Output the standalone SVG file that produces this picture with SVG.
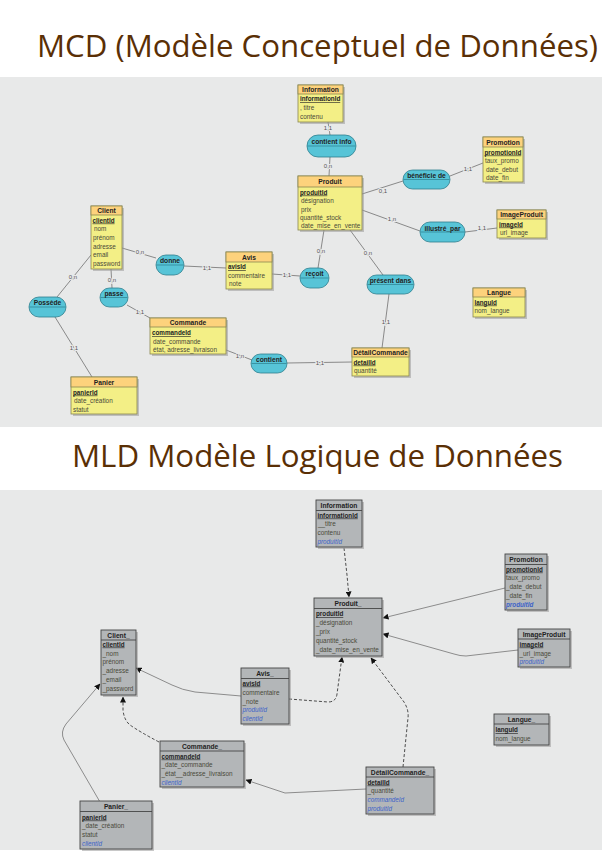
<svg xmlns="http://www.w3.org/2000/svg" width="602" height="860" viewBox="0 0 602 860">
<style>
  .title{font-family:"Open Sans","Liberation Sans",sans-serif;font-size:31px;fill:#5a2f05}
  text{font-family:"Liberation Sans","DejaVu Sans",sans-serif}
  .sh{fill:#9a9a9a;opacity:.55}
  .ent{fill:#f3ef86;stroke:#8a8750;stroke-width:.8}
  .hd{fill:#fdd27c;stroke:#8a8750;stroke-width:.8}
  .tbl{fill:#b3b6b8;stroke:#454545;stroke-width:.9}
  .sep{stroke:#454545;stroke-width:.9}
  .as{fill:#57c4d7;stroke:#2d7f8e;stroke-width:.8}
  .asl{stroke:#2d7f8e;stroke-width:.7}
  .nm{font-size:6.7px;font-weight:bold;fill:#222;text-anchor:middle}
  .at{font-size:6.4px;fill:#4a4a3a}
  .pk{font-size:6.3px;font-weight:bold;fill:#222;text-decoration:underline}
  .fk{font-size:6.3px;font-style:italic;fill:#3d63c9}
  .card{font-size:6px;fill:#555;text-anchor:middle;stroke:#e8e9e9;stroke-width:2;paint-order:stroke}
  .ln{fill:none;stroke:#707070;stroke-width:.8}
  .sl{fill:none;stroke:#8c8c8c;stroke-width:1}
  .dl{fill:none;stroke:#222;stroke-width:.8;stroke-dasharray:3 2}
</style>
<defs>
  <marker id="arr" viewBox="0 0 6 6" refX="5.5" refY="3" markerWidth="6" markerHeight="6" orient="auto" markerUnits="userSpaceOnUse">
    <path d="M0,0 L6,3 L0,6 z" fill="#111"/>
  </marker>
</defs>

<!-- page -->
<rect x="0" y="0" width="602" height="860" fill="#ffffff"/>
<rect x="0" y="77" width="602" height="350" fill="#e8e9e9"/>
<rect x="0" y="490" width="602" height="360" fill="#e8e9e9"/>
<text class="title" x="37" y="57" textLength="561" lengthAdjust="spacingAndGlyphs">MCD (Modèle Conceptuel de Données)</text>
<text class="title" x="72" y="467" textLength="491" lengthAdjust="spacingAndGlyphs">MLD Modèle Logique de Données</text>

<!-- conceptual model: links -->
<g id="mcd-links">
  <path class="ln" d="M328,122 L330,135"/>
  <path class="ln" d="M330,157 L329,176"/>
  <path class="ln" d="M362,194 L403,181"/>
  <path class="ln" d="M450,176 L483,163"/>
  <path class="ln" d="M362,210 L420,231"/>
  <path class="ln" d="M465,232 L497,228"/>
  <path class="ln" d="M122,248 L156,258"/>
  <path class="ln" d="M184,266 L226,268"/>
  <path class="ln" d="M272,274 L300,276"/>
  <path class="ln" d="M318,268 L324,230"/>
  <path class="ln" d="M350,230 L383,275"/>
  <path class="ln" d="M389,294 L382,348"/>
  <path class="ln" d="M91,255 L57,297"/>
  <path class="ln" d="M55,317 L92,377"/>
  <path class="ln" d="M111,269 L112,288"/>
  <path class="ln" d="M127,305 L150,318"/>
  <path class="ln" d="M226,350 L252,360"/>
  <path class="ln" d="M287,363 L352,362"/>
  <text class="card" x="328" y="130">1,1</text>
  <text class="card" x="328" y="168">0,n</text>
  <text class="card" x="383" y="193">0,1</text>
  <text class="card" x="468" y="171">1,1</text>
  <text class="card" x="392" y="221">1,n</text>
  <text class="card" x="482" y="230">1,1</text>
  <text class="card" x="140" y="254">0,n</text>
  <text class="card" x="207" y="270">1,1</text>
  <text class="card" x="287" y="277">1,1</text>
  <text class="card" x="321" y="253">0,n</text>
  <text class="card" x="368" y="255">0,n</text>
  <text class="card" x="386" y="324">1,1</text>
  <text class="card" x="73" y="279">0,n</text>
  <text class="card" x="74" y="350">1,1</text>
  <text class="card" x="112" y="282">0,n</text>
  <text class="card" x="140" y="314">1,1</text>
  <text class="card" x="240" y="358">1,n</text>
  <text class="card" x="320" y="365">1,1</text>
</g>

<!-- conceptual model: entities -->
<g id="mcd-information">
  <rect class="sh" x="300" y="87" width="45" height="37"/>
  <rect class="ent" x="298" y="85" width="45" height="37"/>
  <rect class="hd" x="298" y="85" width="45" height="9"/>
  <text class="nm" x="320.5" y="91.8">Information</text>
  <text class="pk" x="300" y="101">informationId</text>
  <text class="at" x="300" y="110">, titre</text>
  <text class="at" x="300" y="118.5">contenu</text>
</g>
<g id="mcd-produit">
  <rect class="sh" x="300" y="178" width="64" height="54"/>
  <rect class="ent" x="298" y="176" width="64" height="54"/>
  <rect class="hd" x="298" y="176" width="64" height="11"/>
  <text class="nm" x="330" y="184">Produit</text>
  <text class="pk" x="300" y="194.5">produitId</text>
  <text class="at" x="301" y="203">désignation</text>
  <text class="at" x="301" y="211.5">prix</text>
  <text class="at" x="300" y="219.5">quantité_stock</text>
  <text class="at" x="301" y="228">date_mise_en_vente</text>
</g>
<g id="mcd-promotion">
  <rect class="sh" x="485" y="139" width="40" height="45"/>
  <rect class="ent" x="483" y="137" width="40" height="45"/>
  <rect class="hd" x="483" y="137" width="40" height="10"/>
  <text class="nm" x="503" y="144.5">Promotion</text>
  <text class="pk" x="484.5" y="154.5">promotionId</text>
  <text class="at" x="485" y="163">taux_promo</text>
  <text class="at" x="486" y="171.5">date_debut</text>
  <text class="at" x="486" y="180">date_fin</text>
</g>
<g id="mcd-imageproduit">
  <rect class="sh" x="499" y="212" width="49" height="28"/>
  <rect class="ent" x="497" y="210" width="49" height="28"/>
  <rect class="hd" x="497" y="210" width="49" height="9"/>
  <text class="nm" x="521.5" y="217">ImageProduit</text>
  <text class="pk" x="499" y="226.5">imageId</text>
  <text class="at" x="500" y="235">url_image</text>
</g>
<g id="mcd-client">
  <rect class="sh" x="93" y="208" width="31" height="63"/>
  <rect class="ent" x="91" y="206" width="31" height="63"/>
  <rect class="hd" x="91" y="206" width="31" height="9"/>
  <text class="nm" x="106.5" y="213">Client</text>
  <text class="pk" x="92.5" y="222.5">clientId</text>
  <text class="at" x="94" y="231">nom</text>
  <text class="at" x="93" y="240">prénom</text>
  <text class="at" x="93" y="248.5">adresse</text>
  <text class="at" x="93" y="257">email</text>
  <text class="at" x="93" y="266">password</text>
</g>
<g id="mcd-avis">
  <rect class="sh" x="228" y="254" width="46" height="37"/>
  <rect class="ent" x="226" y="252" width="46" height="37"/>
  <rect class="hd" x="226" y="252" width="46" height="10"/>
  <text class="nm" x="249" y="259.5">Avis</text>
  <text class="pk" x="228" y="269">avisId</text>
  <text class="at" x="228" y="277.5">commentaire</text>
  <text class="at" x="229" y="286">note</text>
</g>
<g id="mcd-detailcommande">
  <rect class="sh" x="354" y="350" width="57" height="28"/>
  <rect class="ent" x="352" y="348" width="57" height="28"/>
  <rect class="hd" x="352" y="348" width="57" height="9"/>
  <text class="nm" x="380.5" y="355">DétailCommande</text>
  <text class="pk" x="353.5" y="364.5">detailId</text>
  <text class="at" x="354" y="373">quantité</text>
</g>
<g id="mcd-langue">
  <rect class="sh" x="475" y="290" width="52" height="29"/>
  <rect class="ent" x="473" y="288" width="52" height="29"/>
  <rect class="hd" x="473" y="288" width="52" height="9"/>
  <text class="nm" x="499" y="295">Langue</text>
  <text class="pk" x="474.5" y="304.5">languId</text>
  <text class="at" x="474.5" y="313">nom_langue</text>
</g>
<g id="mcd-commande">
  <rect class="sh" x="152" y="320" width="76" height="36"/>
  <rect class="ent" x="150" y="318" width="76" height="36"/>
  <rect class="hd" x="150" y="318" width="76" height="9"/>
  <text class="nm" x="188" y="325">Commande</text>
  <text class="pk" x="152" y="335">commandeId</text>
  <text class="at" x="153" y="343.5">date_commande</text>
  <text class="at" x="153" y="352">état, adresse_livraison</text>
</g>
<g id="mcd-panier">
  <rect class="sh" x="73" y="379" width="66" height="37"/>
  <rect class="ent" x="71" y="377" width="66" height="37"/>
  <rect class="hd" x="71" y="377" width="66" height="10"/>
  <text class="nm" x="104" y="384.5">Panier</text>
  <text class="pk" x="73" y="394.5">panierId</text>
  <text class="at" x="74" y="403">date_création</text>
  <text class="at" x="73" y="411.5">statut</text>
</g>

<!-- conceptual model: associations -->
<g id="as-contient-info">
  <rect class="as" x="307" y="135" width="49" height="22" rx="11"/>
  <line class="asl" x1="307.5" y1="146" x2="355.5" y2="146"/>
  <text class="nm" x="331.5" y="143.5">contient info</text>
</g>
<g id="as-beneficie">
  <rect class="as" x="403" y="170" width="47" height="19" rx="9.5"/>
  <line class="asl" x1="403.5" y1="179.5" x2="449.5" y2="179.5"/>
  <text class="nm" x="426.5" y="177.5">bénéficie de</text>
</g>
<g id="as-illustre">
  <rect class="as" x="420" y="222" width="45" height="20" rx="10"/>
  <line class="asl" x1="420.5" y1="232" x2="464.5" y2="232"/>
  <text class="nm" x="442.5" y="230.5">illustré_par</text>
</g>
<g id="as-donne">
  <rect class="as" x="156" y="255" width="28" height="20" rx="10"/>
  <line class="asl" x1="156.5" y1="265" x2="183.5" y2="265"/>
  <text class="nm" x="170" y="263">donne</text>
</g>
<g id="as-recoit">
  <rect class="as" x="300" y="268" width="29" height="20" rx="10"/>
  <line class="asl" x1="300.5" y1="278" x2="328.5" y2="278"/>
  <text class="nm" x="314.5" y="276">reçoit</text>
</g>
<g id="as-present">
  <rect class="as" x="367" y="275" width="47" height="19" rx="9.5"/>
  <line class="asl" x1="367.5" y1="284.5" x2="413.5" y2="284.5"/>
  <text class="nm" x="390.5" y="283">présent dans</text>
</g>
<g id="as-possede">
  <rect class="as" x="29" y="297" width="37" height="20" rx="10"/>
  <line class="asl" x1="29.5" y1="307" x2="65.5" y2="307"/>
  <text class="nm" x="47.5" y="305">Possède</text>
</g>
<g id="as-passe">
  <rect class="as" x="100" y="288" width="28" height="19" rx="9.5"/>
  <line class="asl" x1="100.5" y1="297.5" x2="127.5" y2="297.5"/>
  <text class="nm" x="114" y="295.5">passe</text>
</g>
<g id="as-contient">
  <rect class="as" x="251" y="354" width="36" height="19" rx="9.5"/>
  <line class="asl" x1="251.5" y1="363.5" x2="286.5" y2="363.5"/>
  <text class="nm" x="269" y="361.5">contient</text>
</g>

<!-- logical model: references -->
<g id="mld-links">
  <path class="dl" d="M344,548 L347,575 L349,597" marker-end="url(#arr)"/>
  <path class="sl" d="M505,588 L383,618" marker-end="url(#arr)"/>
  <path class="sl" d="M518,650 L466,656 Q460,656 454,654 L383,634" marker-end="url(#arr)"/>
  <path class="dl" d="M289,699 L328,702 Q336,702 337,694 L342,657" marker-end="url(#arr)"/>
  <path class="sl" d="M241,696 L195,692 Q182,690 172,685 L136,668" marker-end="url(#arr)"/>
  <path class="dl" d="M159,742 Q140,732 130,725 Q124,720 123,710 L123,697" marker-end="url(#arr)"/>
  <path class="sl" d="M100,802 L64,740 Q60,732 66,724 L100,684" marker-end="url(#arr)"/>
  <path class="sl" d="M366,789 L285,793 L246,780" marker-end="url(#arr)"/>
  <path class="dl" d="M403,767 L408,718 Q409,710 404,702 L371,658" marker-end="url(#arr)"/>
</g>

<!-- logical model: tables -->
<g id="t-information">
  <rect class="sh" x="318" y="502" width="46" height="47"/>
  <rect class="tbl" x="316" y="500" width="46" height="47"/>
  <line class="sep" x1="316" y1="510.5" x2="362" y2="510.5"/>
  <text class="nm" x="339" y="507.5">Information</text>
  <text class="pk" x="317.5" y="517.5">informationId</text>
  <text class="at" x="318" y="526">__titre</text>
  <text class="at" x="317.5" y="535">contenu</text>
  <text class="fk" x="317.5" y="544">produitId</text>
</g>
<g id="t-produit">
  <rect class="sh" x="316" y="600" width="68" height="58"/>
  <rect class="tbl" x="314" y="598" width="68" height="58"/>
  <line class="sep" x1="314" y1="608.5" x2="382" y2="608.5"/>
  <text class="nm" x="348" y="606">Produit_</text>
  <text class="pk" x="316" y="616">produitId</text>
  <text class="at" x="316" y="625">_désignation</text>
  <text class="at" x="316" y="634">_prix</text>
  <text class="at" x="316" y="642.5">quantité_stock</text>
  <text class="at" x="316" y="651.5">_date_mise_en_vente</text>
</g>
<g id="t-promotion">
  <rect class="sh" x="507" y="556" width="42" height="56"/>
  <rect class="tbl" x="505" y="554" width="42" height="56"/>
  <line class="sep" x1="505" y1="564.5" x2="547" y2="564.5"/>
  <text class="nm" x="526" y="562">Promotion</text>
  <text class="pk" x="506" y="571.5">promotionId</text>
  <text class="at" x="506" y="580">taux_promo</text>
  <text class="at" x="506" y="589">_date_debut</text>
  <text class="at" x="506" y="598">_date_fin</text>
  <text class="fk" x="506" y="606.5" font-weight="bold">produitId</text>
</g>
<g id="t-imageproduit">
  <rect class="sh" x="520" y="631" width="52" height="38"/>
  <rect class="tbl" x="518" y="629" width="52" height="38"/>
  <line class="sep" x1="518" y1="639" x2="570" y2="639"/>
  <text class="nm" x="544" y="636.5">ImageProduit</text>
  <text class="pk" x="519.5" y="646.5">imageId</text>
  <text class="at" x="519.5" y="655.5">_url_image</text>
  <text class="fk" x="519.5" y="664">produitId</text>
</g>
<g id="t-client">
  <rect class="sh" x="103" y="632" width="35" height="65"/>
  <rect class="tbl" x="101" y="630" width="35" height="65"/>
  <line class="sep" x1="101" y1="640" x2="136" y2="640"/>
  <text class="nm" x="118.5" y="637.5">Client_</text>
  <text class="pk" x="102.5" y="646.5">clientId</text>
  <text class="at" x="102.5" y="655.5">_nom</text>
  <text class="at" x="102.5" y="664">prénom</text>
  <text class="at" x="102.5" y="673">_adresse</text>
  <text class="at" x="102.5" y="682">_email</text>
  <text class="at" x="102.5" y="691">_password</text>
</g>
<g id="t-avis">
  <rect class="sh" x="243" y="670" width="48" height="56"/>
  <rect class="tbl" x="241" y="668" width="48" height="56"/>
  <line class="sep" x1="241" y1="678.5" x2="289" y2="678.5"/>
  <text class="nm" x="265" y="676">Avis_</text>
  <text class="pk" x="242.5" y="685.5">avisId</text>
  <text class="at" x="242.5" y="694.5">commentaire</text>
  <text class="at" x="242.5" y="703.5">_note</text>
  <text class="fk" x="242.5" y="712">produitId</text>
  <text class="fk" x="242.5" y="721">clientId</text>
</g>
<g id="t-commande">
  <rect class="sh" x="162" y="743" width="84" height="46"/>
  <rect class="tbl" x="160" y="741" width="84" height="46"/>
  <line class="sep" x1="160" y1="751" x2="244" y2="751"/>
  <text class="nm" x="202" y="748.5">Commande_</text>
  <text class="pk" x="161.5" y="758.5">commandeId</text>
  <text class="at" x="161.5" y="767">_date_commande</text>
  <text class="at" x="161.5" y="775.5">_état__adresse_livraison</text>
  <text class="fk" x="161.5" y="784.5">clientId</text>
</g>
<g id="t-panier">
  <rect class="sh" x="82" y="803" width="72" height="48"/>
  <rect class="tbl" x="80" y="801" width="72" height="48"/>
  <line class="sep" x1="80" y1="811.5" x2="152" y2="811.5"/>
  <text class="nm" x="116" y="809">Panier_</text>
  <text class="pk" x="82" y="819.5">panierId</text>
  <text class="at" x="82" y="828">_date_création</text>
  <text class="at" x="82" y="836.5">statut</text>
  <text class="fk" x="82" y="845.5">clientId</text>
</g>
<g id="t-detailcommande">
  <rect class="sh" x="368" y="769" width="68" height="47"/>
  <rect class="tbl" x="366" y="767" width="68" height="47"/>
  <line class="sep" x1="366" y1="777" x2="434" y2="777"/>
  <text class="nm" x="400" y="774.5">DétailCommande_</text>
  <text class="pk" x="367.5" y="784.5">detailId</text>
  <text class="at" x="367.5" y="793">_quantité</text>
  <text class="fk" x="367.5" y="801.5">commandeId</text>
  <text class="fk" x="367.5" y="810.5">produitId</text>
</g>
<g id="t-langue">
  <rect class="sh" x="496" y="716" width="55" height="31"/>
  <rect class="tbl" x="494" y="714" width="55" height="31"/>
  <line class="sep" x1="494" y1="724" x2="549" y2="724"/>
  <text class="nm" x="521.5" y="721.5">Langue_</text>
  <text class="pk" x="495.5" y="732">languId</text>
  <text class="at" x="495.5" y="740.5">nom_langue</text>
</g>
</svg>
